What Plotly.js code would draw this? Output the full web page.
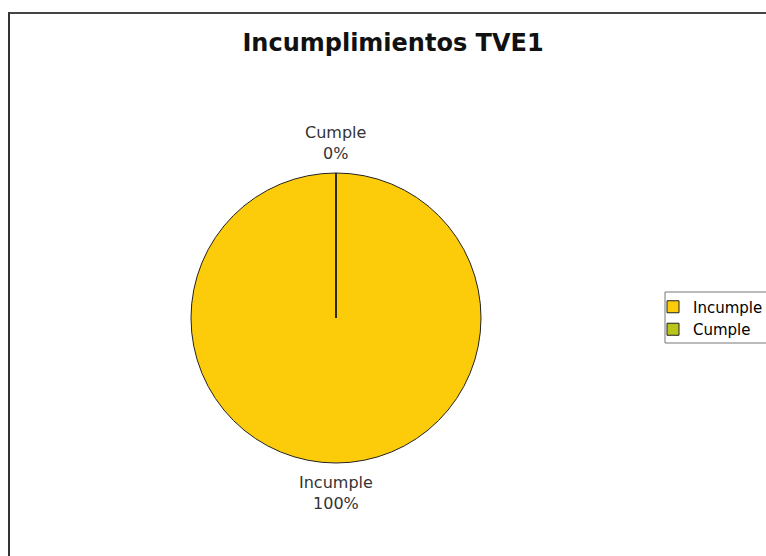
<!DOCTYPE html>
<html><head><meta charset="utf-8">
<script src="https://cdn.plot.ly/plotly-3.0.1.min.js"></script>
<style>
html,body{margin:0;padding:0;background:#fff;}
#wrap{position:relative;width:766px;height:556px;overflow:hidden;}
#chart{position:absolute;left:0;top:0;width:766px;height:556px;}
#frame{position:absolute;left:8px;top:12px;width:800px;height:600px;border-left:2px solid #333;border-top:2px solid #444;pointer-events:none;}
</style></head>
<body><div id="wrap"><div id="chart"></div><div id="frame"></div></div>
<script>
const labels = ["Incumple", "Cumple"];
const values = [100, 0];
const colors = ["#FCCC0A", "#BAC51C"];
const titleText = "Incumplimientos TVE1";

const W = 766, H = 556;
const FONT = "DejaVu Sans, Verdana, sans-serif";
// pie geometry (pixels)
const cx = 336, cy = 318, R = 145;

const trace = {
  type: "pie",
  labels: labels,
  values: values,
  sort: false,
  direction: "clockwise",
  rotation: 0,
  marker: {colors: colors, line: {color: "#222", width: 1}},
  textinfo: "none",
  showlegend: true,
  hoverinfo: "none",
  domain: {x: [(cx - R)/W, (cx + R)/W], y: [(H - cy - R)/H, (H - cy + R)/H]}
};

// outside labels computed from the data (label + percent at slice mid-angle)
const total = values.reduce((a, b) => a + b, 0);
let cum = 0;
const annotations = labels.map((lab, i) => {
  const frac = values[i] / total;
  const mid = cum + frac / 2;
  cum += frac;
  const ang = mid * 2 * Math.PI; // clockwise from top
  const dx = Math.sin(ang), dy = -Math.cos(ang);
  const off = R + 8;
  const px = cx + dx * off, py = cy + dy * off;
  return {
    xref: "paper", yref: "paper",
    x: px / W, y: 1 - py / H,
    xanchor: Math.abs(dx) < 0.3 ? "center" : (dx > 0 ? "left" : "right"),
    yanchor: dy < -0.3 ? "bottom" : (dy > 0.3 ? "top" : "middle"),
    showarrow: false,
    text: lab + "<br>" + Math.round(frac * 100) + "%",
    font: {family: FONT, size: 16, color: "#333"},
    align: "center"
  };
});

const layout = {
  width: W, height: H,
  margin: {l: 0, r: 0, t: 0, b: 0, autoexpand: false},
  paper_bgcolor: "#fff",
  title: {text: "<b>" + titleText + "</b>", x: 393/W, xanchor: "center", y: 1 - 43/H, yanchor: "middle",
          font: {family: FONT, size: 24, color: "#111"}},
  legend: {x: 653/W, xanchor: "left", y: 1 - 318/H, yanchor: "middle",
           borderwidth: 0, bgcolor: "rgba(0,0,0,0)",
           font: {family: FONT, size: 15, color: "#000"},
           itemwidth: 30},
  annotations: annotations,
  shapes: [
    {type: "line", xref: "paper", yref: "paper",
     x0: cx/W, x1: cx/W, y0: 1 - cy/H, y1: 1 - (cy - R)/H,
     line: {color: "#222", width: 1.5}},
    {type: "rect", xref: "paper", yref: "paper",
     x0: 665/W, x1: 800/W, y0: 1 - 343/H, y1: 1 - 292/H,
     line: {color: "#777", width: 1}, fillcolor: "rgba(0,0,0,0)", layer: "below"}
  ]
};
Plotly.newPlot("chart", [trace], layout, {displayModeBar: false, staticPlot: true});
</script></body></html>
